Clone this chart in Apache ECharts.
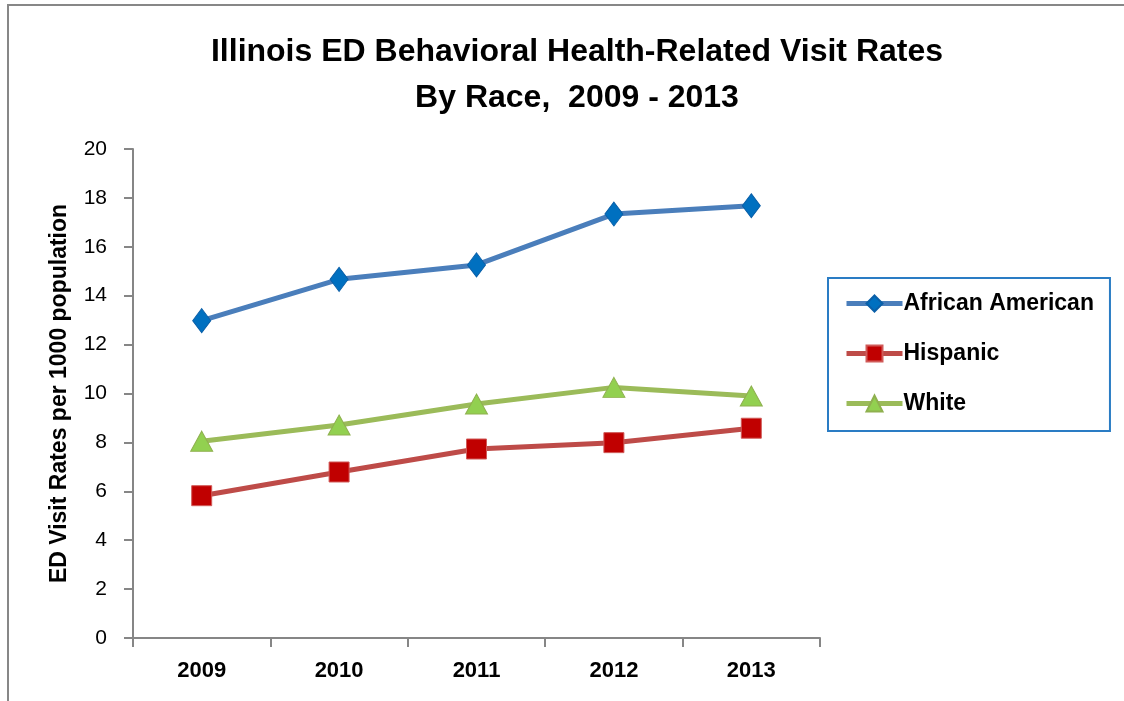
<!DOCTYPE html>
<html>
<head>
<meta charset="utf-8">
<title>Illinois ED Behavioral Health-Related Visit Rates</title>
<script src="https://cdn.jsdelivr.net/npm/echarts@6/dist/echarts.min.js"></script>
<style>
html, body { margin: 0; padding: 0; background: #fff; }
#chart { width: 1124px; height: 701px; }
</style>
</head>
<body>
<div id="chart"></div>
<script>
// chart data
const years = ['2009', '2010', '2011', '2012', '2013'];
const africanAmerican = [12.98, 14.67, 15.26, 17.34, 17.68];
const hispanic = [5.82, 6.79, 7.73, 7.99, 8.58];
const white = [8.05, 8.71, 9.57, 10.25, 9.90];
const yTicks = [0, 2, 4, 6, 8, 10, 12, 14, 16, 18, 20];

const fontName = 'Liberation Sans, sans-serif';
const axisGray = '#868686';

var myChart = echarts.init(document.getElementById('chart'));

function makeSeries(name, data, symbol, size, lineColor, markerColor, borderColor) {
	return {
		name: name,
		type: 'line',
		data: data,
		symbol: symbol,
		symbolSize: size,
		lineStyle: { color: lineColor, width: 5 },
		itemStyle: { color: markerColor, borderColor: borderColor, borderWidth: 1 },
		emphasis: { disabled: true }
	};
}

var option = {
	animation: false,
	backgroundColor: '#fff',
	textStyle: { fontFamily: fontName },
	title: {
		text: 'Illinois ED Behavioral Health-Related Visit Rates\nBy Race,  2009 - 2013',
		left: 572,
		top: 24,
		textAlign: 'center',
		textStyle: {
			fontFamily: fontName,
			fontSize: 32,
			fontWeight: 'bold',
			color: '#000',
			lineHeight: 46
		}
	},
	legend: {
		orient: 'vertical',
		left: 828,
		top: 278,
		padding: [14, 16, 16, 16],
		itemGap: 27,
		itemWidth: 56,
		itemHeight: 20,
		borderColor: '#2a7cc4',
		borderWidth: 2,
		lineStyle: { width: 5 },
		textStyle: { fontFamily: fontName, fontSize: 23, fontWeight: 'bold', color: '#000', padding: [0, 0, 0, -4] },
		data: ['African American', 'Hispanic', 'White']
	},
	grid: {
		left: 133,
		right: 304,
		top: 149,
		bottom: 63,
		containLabel: false
	},
	xAxis: {
		type: 'category',
		data: years,
		boundaryGap: true,
		axisLine: { lineStyle: { color: axisGray, width: 2 } },
		axisTick: { show: true, length: 9, inside: false, lineStyle: { color: axisGray, width: 2 } },
		axisLabel: { fontFamily: fontName, fontSize: 22, fontWeight: 'bold', color: '#000', margin: 22 }
	},
	yAxis: {
		type: 'value',
		min: yTicks[0],
		max: yTicks[yTicks.length - 1],
		interval: 2,
		name: 'ED Visit Rates per 1000 population',
		nameLocation: 'middle',
		nameGap: 62,
		nameTextStyle: { fontFamily: fontName, fontSize: 23, fontWeight: 'bold', color: '#000' },
		splitLine: { show: false },
		axisLine: { show: true, lineStyle: { color: axisGray, width: 2 } },
		axisTick: { show: true, length: 9, lineStyle: { color: axisGray, width: 2 } },
		axisLabel: { fontFamily: fontName, fontSize: 21, color: '#000', margin: 26 }
	},
	graphic: [
		{
			type: 'rect',
			shape: { x: 8, y: 5, width: 1130, height: 720 },
			style: { fill: 'none', stroke: '#878787', lineWidth: 2 },
			silent: true
		}
	],
	series: [
		makeSeries('African American', africanAmerican, 'diamond', [18, 24], '#4a7ebb', '#0070c0', '#0a5fa8'),
		makeSeries('Hispanic', hispanic, 'rect', 20, '#be4b48', '#c00000', '#d05a58'),
		makeSeries('White', white, 'triangle', [22, 20], '#9bbb59', '#92d050', '#8fb04f')
	]
};

myChart.setOption(option);
</script>
</body>
</html>
